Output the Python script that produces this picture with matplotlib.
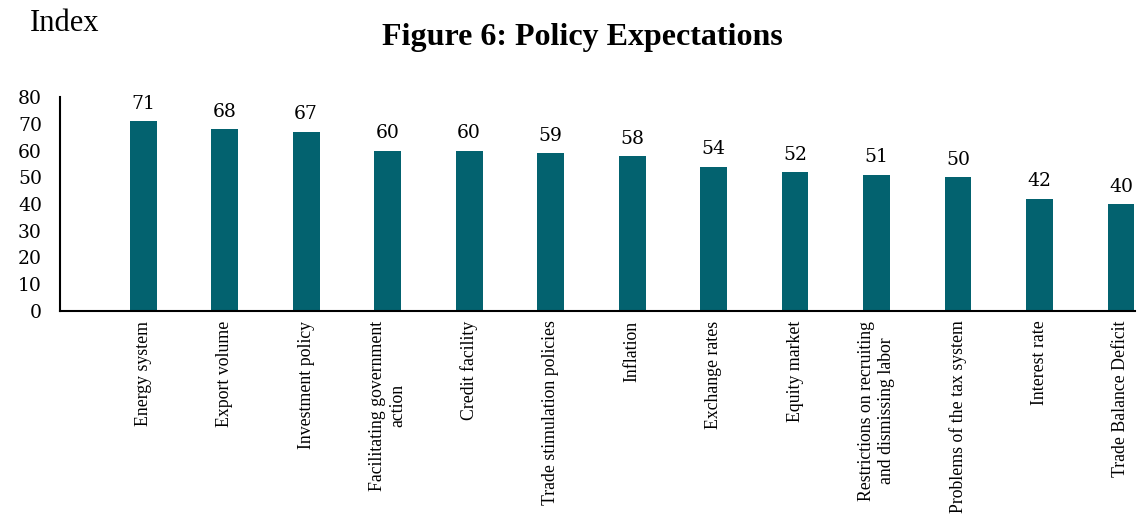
import matplotlib as mpl
mpl.use('Agg')
import matplotlib.pyplot as plt
import numpy as np

categories = [
	"Energy system",
	"Export volume",
	"Investment policy",
	"Facilitating government\naction",
	"Credit facility",
	"Trade stimulation policies",
	"Inflation",
	"Exchange rates",
	"Equity market",
	"Restrictions on recruiting\nand dismissing labor",
	"Problems of the tax system",
	"Interest rate",
	"Trade Balance Deficit",
]
values = [71, 68, 67, 60, 60, 59, 58, 54, 52, 51, 50, 42, 40]
yticks = [0, 10, 20, 30, 40, 50, 60, 70, 80]

bar_color = "#03626F"
serif = "Liberation Serif"
num_font = "DejaVu Serif"

fig = plt.figure(figsize=(11.41, 5.19), dpi=100)
ax = fig.add_axes([0.0526, 0.401, 0.942, 0.412])

x = np.arange(len(categories))
ax.bar(x, values, width=0.33, color=bar_color)

for xi, v in zip(x, values):
	ax.annotate(str(v), (xi, v), xytext=(0, 6), textcoords="offset points",
		ha="center", va="bottom", fontsize=13.5, family=num_font)

ax.set_xlim(-1.02, 12.17)
ax.set_ylim(0, 80)
ax.set_yticks(yticks)
ax.set_yticklabels([str(t) for t in yticks], family=num_font, fontsize=13.5)
ax.set_xticks(x)
ax.set_xticklabels(categories, rotation=90, family=serif, fontsize=12.8,
	va="top", ha="center", multialignment="center")
ax.tick_params(axis="y", length=0, pad=13)
ax.tick_params(axis="x", length=0, pad=7)

for s in ["top", "right"]:
	ax.spines[s].set_visible(False)
ax.spines["left"].set_linewidth(1.5)
ax.spines["bottom"].set_linewidth(1.5)

fig.text(0.510, 0.927, "Figure 6: Policy Expectations", ha="center", va="center",
	fontsize=23, fontweight="bold", family=serif)
fig.text(0.026, 0.955, "Index", ha="left", va="center", fontsize=22, family=serif)

fig.savefig("out.png", dpi=100)
